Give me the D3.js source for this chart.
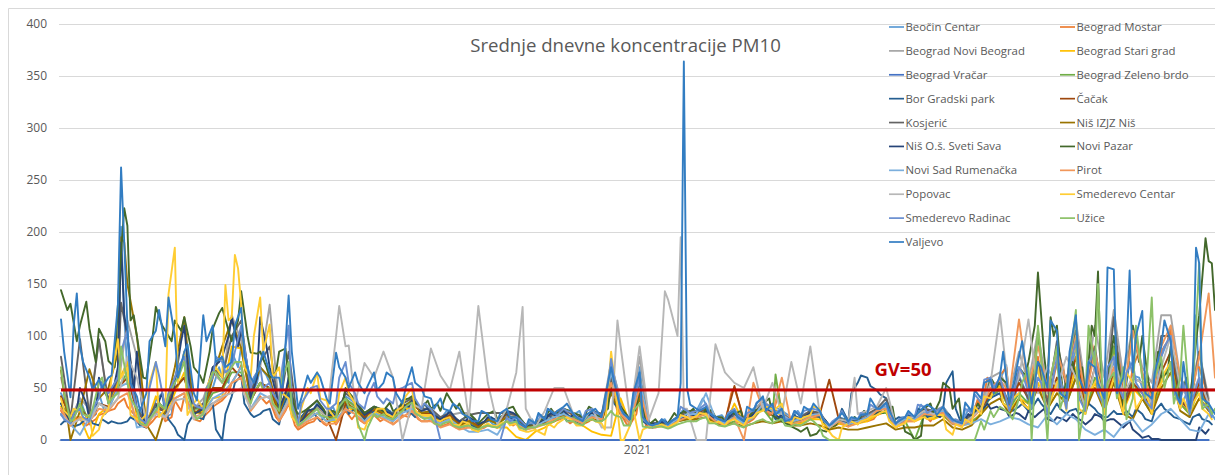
<!DOCTYPE html>
<html><head><meta charset="utf-8">
<script src="https://cdn.jsdelivr.net/npm/d3@7"></script>
<style>html,body{margin:0;padding:0;background:#fff;overflow:hidden}svg{display:block}text{font-family:"Open Sans",sans-serif}</style>
</head><body><div id="chart"></div>
<script>
const yearLabels=["2021"];
const yTicks=[0,50,100,150,200,250,300,350,400];
const gridStepDays=3;
const seriesNames=["Beočin Centar","Beograd Mostar","Beograd Novi Beograd","Beograd Stari grad","Beograd Vračar","Beograd Zeleno brdo","Bor Gradski park","Čačak","Kosjerić","Niš IZJZ Niš","Niš O.š. Sveti Sava","Novi Pazar","Novi Sad Rumenačka","Pirot","Popovac","Smederevo Centar","Smederevo Radinac","Užice","Valjevo"];
const seriesColors=["#5B9BD5","#ED7D31","#A5A5A5","#FFC000","#4472C4","#70AD47","#255E91","#9E480E","#636363","#997300","#264478","#43682B","#7CAFDD","#F1975A","#B7B7B7","#FFCD33","#698ED0","#8CC168","#327DC2"];
const beocinCentar=[45,22,40,15,45,30,55,65,30,18,38,22,60,85,30,35,50,60,85,90,
42,70,55,28,60,20,28,35,24,25,42,35,25,32,28,22,35,40,28,28,
20,25,18,20,13,20,16,24,22,13,15,20,24,28,24,20,27,24,72,35,
20,70,16,17,15,22,28,28,34,22,20,25,20,30,38,32,28,20,24,28,
28,13,22,16,20,24,30,35,15,22,22,30,28,32,20,16,25,32,48,58,
30,62,35,68,28,70,38,90,30,72,30,75,35,62,50,30,80,110,30,22,
55,30];
const beogradMostar=[28,14,20,16,24,28,35,32,20,12,22,18,38,42,20,22,32,38,55,72,
30,42,38,18,35,10,16,22,14,15,28,24,16,24,20,15,24,28,18,20,
13,17,11,14,10,14,12,18,16,10,12,15,18,22,18,15,20,18,48,25,
15,45,12,13,12,18,22,22,25,17,14,50,15,20,32,24,20,14,16,20,
22,10,16,13,15,18,24,28,12,17,18,24,22,24,15,13,18,28,55,62,
40,68,48,80,40,75,50,100,35,78,40,90,35,70,60,40,85,105,45,30,
70,38];
const beogradNoviBeograd=[60,20,40,30,95,35,50,115,80,18,32,28,60,80,30,40,65,55,120,95,
55,70,130,30,50,18,25,32,22,23,38,34,25,30,24,22,32,36,28,26,
20,24,26,26,14,20,16,24,22,13,15,20,24,28,24,20,27,24,75,35,
18,80,16,17,16,22,28,28,30,22,20,25,20,28,38,30,26,20,22,28,
26,12,20,15,20,24,30,36,16,22,22,30,28,32,20,18,25,34,60,65,
45,85,55,105,45,90,55,115,50,110,60,125,60,110,70,55,120,120,60,45,
85,40];
const beogradStariGrad=[32,16,22,0,25,32,55,75,22,14,42,25,45,65,25,28,40,42,90,88,
40,55,50,22,42,14,20,26,18,18,32,28,20,28,22,18,28,32,22,22,
16,20,13,15,10,15,12,12,3,0,8,12,18,25,18,14,8,5,4,40,
15,60,13,13,13,18,22,23,26,18,15,35,16,22,30,32,22,14,16,20,
20,10,16,14,16,18,24,28,12,18,18,22,20,24,16,14,16,26,45,52,
28,40,35,55,30,45,35,70,28,55,32,60,28,50,40,30,55,75,35,25,
40,30];
const beogradVracar=[0,0,0,0,0,0,0,0,0,0,0,0,0,0,0,0,0,0,0,0,
0,0,0,0,0,0,0,0,0,0,0,0,0,0,0,0,0,0,0,0,
0,0,0,0,0,0,0,0,0,0,0,0,0,0,0,0,0,0,0,0,
0,0,0,0,0,0,0,0,0,0,0,0,0,0,0,0,0,0,0,0,
0,0,0,0,0,0,0,0,0,0,0,0,0,0,0,0,0,0,0,0,
0,0,0,0,0,0,0,0,0,0,0,0,0,0,0,0,0,0,0,0,
0,0];
const beogradZelenoBrdo=[35,20,35,18,35,30,50,65,30,16,32,28,50,60,30,30,45,48,65,65,
38,55,50,28,48,16,24,30,22,22,40,32,24,32,26,22,32,38,26,26,
20,24,16,18,13,20,15,22,22,12,14,18,22,24,22,18,24,22,55,28,
16,50,14,14,13,18,20,22,25,18,15,18,16,22,30,18,24,16,18,24,
22,12,18,14,16,20,26,26,13,18,0,24,22,24,16,14,18,24,42,48,
30,45,35,100,30,55,35,60,25,60,30,90,30,55,40,25,60,70,35,25,
50,30];
const borGradskiPark=[15,18,15,22,14,16,16,18,18,12,25,30,12,0,25,20,35,0,42,62,
25,25,30,15,45,20,30,22,25,22,40,30,20,28,25,25,35,25,30,25,
18,20,14,16,11,18,18,25,18,12,15,16,20,25,20,15,22,20,50,28,
16,45,14,14,14,18,22,22,25,18,16,22,16,25,32,25,22,16,18,28,
22,14,20,18,55,60,48,40,20,20,22,28,24,30,66,14,25,30,40,45,
30,32,28,40,28,35,25,30,30,30,22,28,25,22,25,18,35,25,20,15,
25,18];
const cacak=[42,22,30,20,35,32,50,60,28,16,30,28,50,60,25,32,50,50,70,60,
38,55,50,26,55,15,24,30,22,0,35,30,22,30,25,22,32,36,26,25,
18,24,16,20,13,20,16,26,24,14,16,22,26,30,24,20,28,25,50,32,
18,45,15,15,15,22,25,26,30,22,18,52,18,25,35,28,26,18,20,28,
25,58,20,15,18,22,28,32,15,22,22,30,26,30,18,16,24,30,45,50,
32,55,40,70,35,60,40,80,35,70,35,65,30,55,45,30,65,85,38,28,
55,32];
const kosjeric=[80,20,97,24,97,35,60,100,30,16,35,26,60,75,30,35,70,60,100,115,
45,75,90,30,85,14,30,38,24,24,45,38,26,32,28,25,35,40,30,30,
22,26,18,24,26,26,26,26,24,14,16,22,25,30,25,20,28,25,60,30,
20,60,16,16,16,22,28,28,30,22,18,25,18,25,35,28,26,18,22,28,
26,14,22,16,20,25,30,40,16,22,22,30,28,30,18,16,25,32,50,55,
35,60,40,75,35,95,50,105,40,90,30,118,35,60,55,35,100,100,40,30,
85,35];
const nisIzjz=[67,0,28,68,40,50,84,150,100,15,0,30,70,118,28,25,60,90,115,88,
40,70,60,25,55,15,28,30,22,22,38,28,24,30,26,20,30,38,26,28,
18,22,14,18,12,20,16,22,22,12,15,16,18,24,20,16,20,18,45,25,
16,40,13,14,13,18,20,20,22,16,14,16,13,16,18,16,18,14,14,16,
14,10,12,10,10,12,14,16,10,12,12,14,14,20,12,10,14,25,35,40,
25,40,30,50,30,45,35,60,28,50,28,55,25,20,40,25,50,65,28,22,
40,28];
const nisSvetiSava=[35,16,50,20,60,40,70,100,85,14,30,30,55,110,25,30,70,80,118,105,
40,118,70,30,60,14,28,34,24,25,48,38,24,32,28,24,34,38,28,26,
20,28,18,22,15,22,18,28,24,14,16,20,24,28,24,20,26,24,55,32,
20,55,16,16,16,20,25,25,28,20,18,28,18,25,32,26,24,18,20,26,
24,14,20,16,20,22,26,32,15,20,20,28,25,28,18,15,22,28,30,30,
22,25,28,25,20,22,18,22,15,25,18,20,12,10,2,1,0,0,0,0,
12,10];
const noviPazar=[144,131,110,107,107,76,130,206,100,59,128,105,115,118,70,55,107,127,95,143,
84,85,60,85,60,25,30,38,24,26,50,38,26,32,28,28,38,42,30,30,
28,40,35,26,16,25,20,30,26,14,16,22,26,30,26,20,30,25,55,32,
20,50,15,16,16,22,25,25,30,22,18,25,18,28,35,24,18,13,8,4,
10,12,18,14,18,22,28,30,14,8,0,30,25,55,30,15,22,30,60,60,
40,70,75,161,55,110,60,60,40,100,50,100,30,110,100,40,60,90,40,35,
120,172];
const noviSadRumenacka=[24,15,5,22,35,30,50,55,12,14,30,22,40,45,22,25,40,45,55,70,
30,45,40,20,40,14,20,26,18,20,30,25,18,26,22,18,26,30,22,20,
16,20,13,8,8,10,5,20,16,10,13,18,22,25,20,16,24,20,65,28,
16,60,14,14,14,20,25,25,45,20,16,22,16,22,35,28,25,18,20,24,
25,12,18,15,18,22,28,32,14,20,20,26,24,28,16,14,16,20,15,18,
22,20,15,12,24,15,25,20,10,5,10,3,15,20,8,15,25,30,20,10,
8,25];
const pirot=[30,14,22,18,30,28,40,45,18,12,28,20,40,45,22,25,35,40,55,60,
28,40,42,18,35,12,18,22,15,16,30,25,16,24,20,15,22,28,18,18,
12,15,10,12,10,14,12,18,15,10,12,15,20,22,20,16,22,20,55,25,
16,50,12,14,12,18,22,22,25,18,14,22,0,55,30,25,60,15,18,22,
24,12,18,13,16,20,28,30,12,18,18,25,24,26,16,14,20,30,50,58,
45,116,50,90,50,85,55,100,40,85,45,70,40,105,65,40,90,110,60,35,
80,141];
const popovac=[25,15,20,18,35,30,40,80,60,18,25,22,38,40,20,25,35,42,45,50,
30,40,42,22,38,15,20,30,22,100,90,35,74,60,85,60,0,35,30,88,
62,48,85,20,129,55,15,30,65,30,12,28,50,50,25,18,30,12,12,90,
20,90,20,45,135,100,30,0,0,92,65,55,50,70,30,55,25,75,35,90,
25,12,20,18,25,28,32,50,14,22,22,28,25,30,18,15,22,30,55,121,
40,60,116,45,70,50,80,60,30,70,40,80,45,60,55,35,70,100,50,40,
60,35];
const smederevoCentar=[40,22,28,24,10,30,97,70,20,25,75,30,185,85,35,30,65,60,118,130,
60,137,111,70,40,15,50,65,38,20,60,35,10,25,30,22,32,50,24,24,
18,22,14,16,8,16,13,18,16,8,10,5,12,20,18,14,20,16,85,0,
14,0,13,14,12,17,22,23,25,16,14,20,14,22,28,30,35,16,20,24,
30,8,0,16,15,20,24,28,12,16,18,22,22,24,5,12,16,25,40,50,
30,45,30,70,30,55,28,90,25,55,25,60,25,55,40,25,55,75,30,25,
45,25];
const smederevoRadinac=[25,16,30,18,40,45,60,105,30,16,75,30,60,80,35,30,60,75,70,110,
50,70,55,35,110,16,45,52,30,35,75,45,30,55,35,35,50,55,30,30,
0,0,0,0,0,0,0,22,22,14,16,20,26,30,26,20,30,24,78,30,
20,60,15,16,15,22,28,28,35,22,18,30,20,28,40,32,30,20,24,30,
28,14,22,16,20,24,30,35,15,22,22,32,30,32,18,16,26,36,60,60,
28,70,45,60,25,80,30,95,28,85,32,80,40,75,45,30,80,100,35,25,
60,30];
const uzice=[70,18,35,22,55,35,45,55,30,14,28,30,55,75,25,25,65,55,70,75,
35,55,50,28,75,14,22,30,22,22,40,30,0,25,25,20,28,36,22,22,
14,18,12,14,10,14,12,18,18,10,12,15,18,22,18,14,20,18,28,22,
14,35,12,13,11,15,18,18,22,16,13,16,12,16,20,16,20,13,14,20,
12,0,0,0,0,0,0,0,0,0,0,0,0,0,0,0,0,18,28,32,
25,40,70,110,0,90,50,125,40,70,0,65,70,40,60,30,80,75,60,35,
170,35];
const valjevo=[116,41,90,60,58,60,130,110,42,45,105,90,100,85,45,120,110,80,75,127,
60,75,65,60,139,30,62,65,40,84,60,65,45,65,55,60,35,70,50,40,
40,28,30,22,18,25,18,30,22,12,16,20,25,32,25,18,28,22,70,30,
20,65,15,16,15,22,30,30,32,22,18,28,18,28,42,35,30,20,22,28,
28,14,22,18,20,25,30,36,16,22,22,32,30,32,20,16,28,40,58,62,
35,80,55,75,50,105,40,120,45,70,40,95,60,65,50,40,90,95,35,30,
60,35];
/* daily readings falling between the three-day samples */
const valjevoMid=[85,110,75,48,50,62,115,55,28,95,125,72,60,92,38,95,75,70,110,80,
55,85,60,45,85,40,55,60,35,70,50,55,52,48,65,45,50,55,42,30,
30,35,25,18,28,20,26,22,16,20,26,30,28,35,22,24,30,40,55,25,
45,22,14,20,18,30,34,28,26,20,24,22,32,35,28,24,18,28,32,35,
20,16,26,22,24,40,30,28,18,28,26,34,24,26,18,36,48,55,45,85,
50,95,35,70,115,45,85,60,75,55,110,45,85,100,45,65,115,50,75,55,
40,30];
const noviPazarMid=[125,95,133,75,95,70,180,120,60,100,110,95,105,90,62,85,122,105,115,100,
83,70,65,88,30,28,35,30,28,34,42,30,30,30,36,30,40,32,38,35,
45,30,22,20,22,28,24,32,18,16,20,30,26,28,24,32,22,30,35,24,
32,18,20,14,26,28,30,24,28,22,28,28,24,30,40,20,15,10,12,6,
8,14,20,22,28,24,26,32,20,5,4,35,38,50,40,20,35,45,50,55,
60,62,110,80,100,40,75,70,110,50,80,60,85,75,55,85,65,70,60,95,
150];
const borMid=[18,13,18,16,20,18,16,22,14,20,35,20,5,15,22,30,10,25,55,35,
22,28,20,30,25,22,28,18,30,35,25,28,25,22,30,30,28,22,35,20,
22,16,20,14,16,22,20,22,14,16,18,24,28,18,18,26,24,32,35,22,
30,18,12,18,16,26,20,28,22,18,24,20,20,28,30,20,18,24,22,24,
18,16,30,45,62,52,44,25,22,24,30,22,26,55,30,18,28,35,42,35,
28,35,30,35,25,30,28,25,35,26,22,25,28,30,20,28,30,22,18,22,
20,15];
const beocinMid=[30,32,22,35,25,45,120,40,25,30,45,25,70,50,32,42,70,55,70,60,
55,62,38,40,28,25,30,28,32,30,38,28,30,26,28,32,30,32,26,24,
28,16,22,15,18,14,20,18,18,20,24,26,22,22,28,22,26,45,50,22,
40,20,15,20,18,30,24,40,25,24,20,22,28,34,26,30,24,28,26,24,
16,20,20,22,28,26,34,22,22,20,34,24,30,24,18,30,38,52,44,72,
45,48,58,42,70,50,75,45,85,40,68,48,75,60,45,60,95,42,45,120,
40];
const radinacMid=[20,25,22,30,55,50,85,55,20,50,62,45,70,55,32,50,80,65,85,90,
60,50,45,70,35,35,50,38,30,60,55,35,42,42,40,48,52,40,35,25,
0,0,0,0,0,0,0,18,20,16,24,30,24,28,22,28,26,30,60,25,
38,20,14,20,18,32,26,30,26,20,26,24,26,36,34,26,20,28,28,30,
20,18,28,20,26,34,30,22,20,26,34,26,28,24,20,30,44,58,50,50,
40,65,30,55,45,60,70,40,75,45,70,55,65,55,38,70,90,45,55,40,
35,22];
const mostarMid=[18,22,14,20,26,30,40,25,14,18,25,22,28,30,18,28,36,45,65,45,
38,35,22,28,14,14,18,16,20,24,20,18,20,18,22,20,22,20,18,16,
15,12,13,11,12,13,16,14,12,14,16,22,20,16,20,18,25,38,28,15,
25,14,12,15,15,22,18,25,20,16,45,30,18,28,24,45,16,18,18,22,
13,14,14,18,22,20,26,16,15,20,26,18,22,18,15,24,40,60,50,70,
55,60,65,45,60,70,85,50,95,40,65,80,50,85,55,70,95,50,55,70,
50];
const centarMid=[28,30,20,4,22,60,60,24,18,55,22,140,55,24,40,50,70,125,165,70,
100,85,60,45,22,30,45,40,28,45,45,12,18,30,25,28,42,28,24,20,
20,15,18,10,12,14,16,14,10,8,8,16,16,22,14,18,18,10,60,0,
30,10,14,15,14,24,20,26,18,18,18,18,20,26,32,30,18,22,22,32,
12,4,12,18,18,22,26,18,14,22,20,20,24,10,15,20,32,42,48,35,
40,35,45,50,38,60,75,30,45,60,40,50,65,30,50,45,65,50,40,35,
30,20];
const uziceMid=[45,20,25,30,60,40,90,40,16,20,35,42,60,45,20,45,65,60,75,50,
45,48,35,60,30,16,25,24,20,32,32,15,12,22,22,24,32,26,20,16,
16,14,13,12,12,13,14,16,12,12,14,16,20,18,16,18,18,20,24,14,
28,13,12,13,12,16,18,20,16,14,14,14,14,18,18,18,14,15,16,18,
4,0,0,0,0,0,0,0,0,0,0,0,0,0,0,0,0,10,22,30,
20,55,0,80,60,30,75,0,110,20,55,40,20,110,40,60,50,35,110,50,
30,25];
const savaMid=[22,28,35,25,45,55,110,45,20,25,45,40,95,40,28,55,75,100,90,70,
60,90,45,45,20,22,30,28,24,34,42,28,28,30,26,30,32,32,30,22,
24,20,18,18,18,20,24,26,16,15,18,26,26,22,22,25,22,45,40,20,
38,18,16,18,18,22,24,26,22,18,24,22,22,30,28,22,20,22,24,24,
18,17,18,20,20,24,30,20,18,22,24,26,22,24,17,25,30,35,32,28,
26,20,22,30,18,20,25,18,20,22,20,15,18,5,4,1,0,0,0,0,
6];
/* sharp daily readings: [day, value] */
const beocinPeaks=[[19,205],[365,20]];
const zelenoPeaks=[[226,63]];
const kosjericPeaks=[[19,132]];
const nisIzjzPeaks=[[19,195],[20,190]];
const nisSavaPeaks=[[19,190],[20,120]];
const noviPazarPeaks=[[19,180],[20,223],[21,206],[22,115],[313,118],[328,162],[362,194],[364,170],[365,125]];
const pirotPeaks=[[365,60]];
const popovacPeaks=[[88,129],[91,91],[146,128],[176,115],[191,143],[196,195],[197,30],[251,60]];
const centarPeaks=[[52,149],[53,115],[55,178],[56,165],[57,130]];
const uzicePeaks=[[328,150],[345,137],[365,30]];
const valjevoPeaks=[[5,141],[19,262],[20,190],[34,137],[196,55],[197,364],[198,50],[331,166],[333,164],[338,163],[342,124],[359,185],[360,170],[365,25]];
const gvDays=[0,365];
const gvValues=[48,48];

const seriesValues=[beocinCentar,beogradMostar,beogradNoviBeograd,beogradStariGrad,beogradVracar,beogradZelenoBrdo,borGradskiPark,cacak,kosjeric,nisIzjz,nisSvetiSava,noviPazar,noviSadRumenacka,pirot,popovac,smederevoCentar,smederevoRadinac,uzice,valjevo];
const seriesMids={0:[2,beocinMid],1:[2,mostarMid],6:[1,borMid],10:[2,savaMid],11:[2,noviPazarMid],15:[1,centarMid],16:[1,radinacMid],17:[1,uziceMid],18:[1,valjevoMid]};
const seriesPeaks={0:beocinPeaks,5:zelenoPeaks,8:kosjericPeaks,9:nisIzjzPeaks,10:nisSavaPeaks,11:noviPazarPeaks,13:pirotPeaks,14:popovacPeaks,15:centarPeaks,17:uzicePeaks,18:valjevoPeaks};

const W=1215,H=475;
const svg=d3.select("#chart").append("svg").attr("width",W).attr("height",H);
const x=d3.scaleLinear().domain([0,365]).range([61,1215]);
const y=d3.scaleLinear().domain([0,400]).range([440,24]);
const xBand=d3.scaleBand().domain(yearLabels).range([60,1215]);

svg.append("path").attr("d","M8.5,480V8.5H1220").attr("fill","none").attr("stroke","#D9D9D9").attr("stroke-width",1);

const yAxis=svg.append("g").attr("transform","translate(59,0)")
  .call(d3.axisLeft(y).tickValues(yTicks).tickSize(-1156).tickPadding(12));
yAxis.select(".domain").remove();
yAxis.selectAll("line").attr("stroke","#D9D9D9");
yAxis.selectAll("text").attr("fill","#595959").style("font-size","12px").style("font-family",'"Open Sans",sans-serif');

const xAxis=svg.append("g").attr("transform","translate(0,440)").call(d3.axisBottom(xBand).tickSize(0).tickPadding(5));
xAxis.select(".domain").remove();
xAxis.selectAll("text").attr("fill","#595959").style("font-size","12px").style("font-family",'"Open Sans",sans-serif');

const line=d3.line().x(d=>x(d.day)).y(d=>y(d.value));
const merged=seriesValues.map((vals,k)=>{
  const m=new Map(vals.map((v,i)=>[i*gridStepDays,v]));
  if(seriesMids[k]){const [off,arr]=seriesMids[k];arr.forEach((v,i)=>m.set(i*gridStepDays+off,v));}
  (seriesPeaks[k]||[]).forEach(p=>m.set(p[0],p[1]));
  return Array.from(m,([day,value])=>({day,value})).sort((a,b)=>a.day-b.day);
});
svg.append("g").selectAll("path").data(merged).join("path")
  .attr("d",line).attr("fill","none").attr("stroke",(d,i)=>seriesColors[i])
  .attr("stroke-width",1.9).attr("stroke-linejoin","round").attr("stroke-linecap","round");

svg.append("path").datum(gvDays.map((d,i)=>({day:d,value:gvValues[i]})))
  .attr("d",line).attr("fill","none").attr("stroke","#C00000").attr("stroke-width",3);

svg.append("text").attr("x",625.5).attr("y",52).attr("text-anchor","middle")
  .attr("fill","#595959").style("font-size","18.6px").text("Srednje dnevne koncentracije PM10");
svg.append("text").attr("x",903).attr("y",376).attr("text-anchor","middle")
  .attr("fill","#C00000").style("font-size","18.5px").style("font-weight",700).text("GV=50");

const legX=d3.scaleOrdinal().domain([0,1]).range([889,1060]);
const legY=d3.scalePoint().domain(d3.range(10)).range([27,242]);
const leg=svg.append("g").selectAll("g").data(seriesNames).join("g")
  .attr("transform",(d,i)=>`translate(${legX(i%2)},${legY(Math.floor(i/2))})`);
leg.append("line").attr("x1",0).attr("x2",15).attr("stroke",(d,i)=>seriesColors[i]).attr("stroke-width",1.7);
leg.append("text").attr("x",16.5).attr("dy","0.35em").attr("fill","#595959").style("font-size","11.4px").text(d=>d);
</script></body></html>
